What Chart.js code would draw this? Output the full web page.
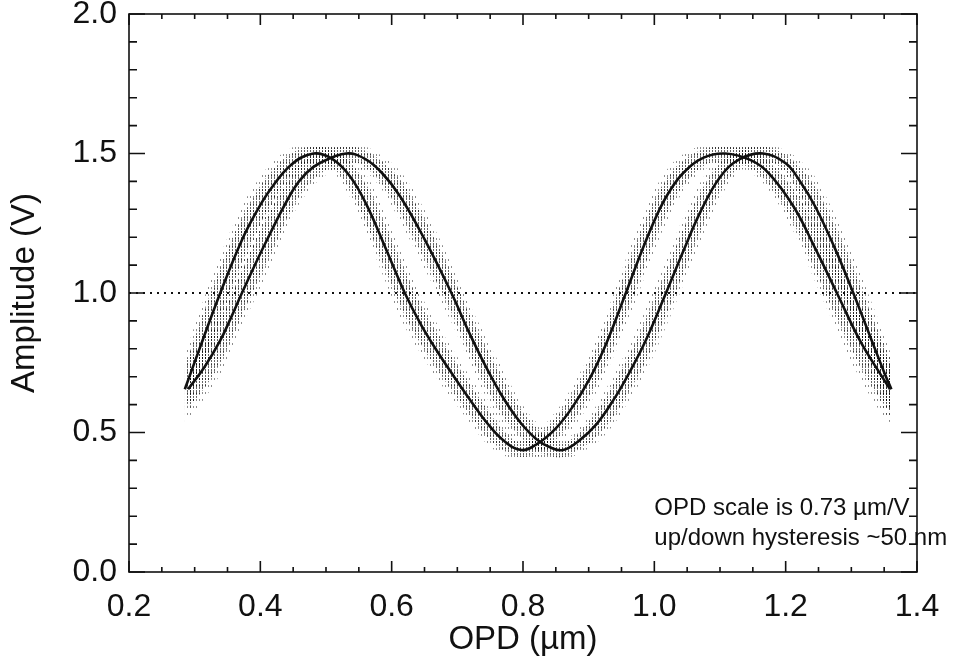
<!DOCTYPE html>
<html>
<head>
<meta charset="utf-8">
<script src="https://cdn.jsdelivr.net/npm/chart.js@4.4.1/dist/chart.umd.min.js"></script>
<style>
    html, body { margin: 0; padding: 0; background: #fff; }
    canvas { display: block; }
</style>
</head>
<body>
<canvas id="opd" width="959" height="669"></canvas>
<script>
const ctxOpd = document.getElementById("opd");

// axis ticks
const xTicks = [0.2, 0.4, 0.6, 0.8, 1.0, 1.2, 1.4];
const yTicks = [0.0, 0.5, 1.0, 1.5, 2.0];
const xMinor = [0.25, 0.3, 0.35, 0.45, 0.5, 0.55, 0.65, 0.7, 0.75, 0.85, 0.9, 0.95, 1.05, 1.1, 1.15, 1.25, 1.3, 1.35];
const yMinor = [0.1, 0.2, 0.3, 0.4, 0.6, 0.7, 0.8, 0.9, 1.1, 1.2, 1.3, 1.4, 1.6, 1.7, 1.8, 1.9];

// sweep 1 (left curve)
const sweepAx = [0.285, 0.312, 0.339, 0.372, 0.395, 0.415, 0.447, 0.481, 0.510, 0.537, 0.562, 0.590, 0.620,
    0.645, 0.671, 0.695, 0.720, 0.745, 0.770, 0.797, 0.821, 0.850, 0.875, 0.902, 0.927, 0.955,
    0.980, 1.004, 1.022, 1.044, 1.075, 1.108, 1.146, 1.174, 1.212, 1.245, 1.278, 1.313, 1.344, 1.359];
const sweepAy = [0.655, 0.83, 1.00, 1.19, 1.295, 1.37, 1.46, 1.50, 1.48, 1.417, 1.315, 1.165, 1.00,
    0.885, 0.785, 0.70, 0.615, 0.535, 0.472, 0.437, 0.458, 0.515, 0.59, 0.695, 0.82, 0.99,
    1.145, 1.28, 1.36, 1.43, 1.485, 1.50, 1.477, 1.43, 1.31, 1.16, 1.00, 0.83, 0.71, 0.655];
// vertical spread of the raw samples around sweep 1
const sweepAspread = [0.08, 0.09, 0.09, 0.08, 0.07, 0.06, 0.04, 0.025, 0.03, 0.05, 0.07, 0.08, 0.08,
    0.07, 0.065, 0.06, 0.055, 0.05, 0.035, 0.025, 0.03, 0.04, 0.05, 0.06, 0.07, 0.08,
    0.08, 0.07, 0.06, 0.045, 0.03, 0.025, 0.03, 0.04, 0.06, 0.08, 0.09, 0.09, 0.09, 0.08];

// sweep 2 (right curve)
const sweepBx = [0.290, 0.315, 0.339, 0.355, 0.372, 0.410, 0.450, 0.470, 0.490, 0.531, 0.560, 0.585, 0.613,
    0.650, 0.691, 0.718, 0.745, 0.771, 0.796, 0.821, 0.842, 0.861, 0.885, 0.912, 0.940, 0.962,
    0.986, 1.016, 1.045, 1.070, 1.100, 1.130, 1.166, 1.200, 1.222, 1.245, 1.275, 1.303, 1.331, 1.351, 1.361];
const sweepBy = [0.655, 0.735, 0.83, 0.91, 1.00, 1.19, 1.37, 1.43, 1.465, 1.50, 1.48, 1.431, 1.346,
    1.193, 1.00, 0.858, 0.729, 0.62, 0.536, 0.475, 0.446, 0.437, 0.47, 0.53, 0.625, 0.715,
    0.825, 0.99, 1.155, 1.29, 1.415, 1.48, 1.50, 1.465, 1.40, 1.31, 1.16, 1.00, 0.83, 0.71, 0.655];
const sweepBspread = [0.07, 0.075, 0.08, 0.08, 0.08, 0.08, 0.06, 0.05, 0.04, 0.025, 0.03, 0.04, 0.06,
    0.07, 0.07, 0.07, 0.07, 0.065, 0.05, 0.04, 0.03, 0.025, 0.03, 0.045, 0.06, 0.065,
    0.075, 0.08, 0.08, 0.07, 0.05, 0.03, 0.025, 0.03, 0.05, 0.07, 0.08, 0.09, 0.09, 0.09, 0.08];

const refLevel = 1.0;
const noteLines = ["OPD scale is 0.73 \u00b5m/V", "up/down hysteresis ~50 nm"];
const noteX = 1.0;
const noteY = [0.205, 0.097];

const toPoints = (xs, ys, off = [], k = 1) => xs.map((x, i) => ({ x: x, y: ys[i] + (off[i] || 0) * k }));

// dotted textures standing in for the raw sample columns
const makeDots = (w, h, alpha) => {
    const c = document.createElement("canvas");
    c.width = w;
    c.height = h;
    const g = c.getContext("2d");
    g.fillStyle = "rgba(0,0,0," + alpha + ")";
    g.fillRect(1, 0, 1, 2);
    return g.createPattern(c, "repeat");
};
const cloudCore = makeDots(3, 3, 0.6);
const cloudHalo = makeDots(3, 7, 0.45);

const envelope = (data, fill, pattern, order) => ({
    data: data,
    showLine: true,
    borderWidth: 0,
    borderColor: "rgba(0,0,0,0)",
    backgroundColor: pattern,
    pointRadius: 0,
    tension: 0.4,
    fill: fill,
    order: order
});

const curve = (data) => ({
    data: data,
    showLine: true,
    borderColor: "#111",
    borderWidth: 2.6,
    pointRadius: 0,
    tension: 0.4,
    fill: false,
    order: 1
});

const frame = {
    id: "frame",
    afterDatasetsDraw(chart) {
        const { ctx, chartArea: a, scales: { x, y } } = chart;
        ctx.save();
        ctx.strokeStyle = "#111";
        ctx.lineWidth = 1.6;
        ctx.strokeRect(a.left, a.top, a.right - a.left, a.bottom - a.top);
        ctx.beginPath();
        const tickX = (v, len) => {
            const p = x.getPixelForValue(v);
            ctx.moveTo(p, a.bottom); ctx.lineTo(p, a.bottom - len);
            ctx.moveTo(p, a.top); ctx.lineTo(p, a.top + len);
        };
        const tickY = (v, len) => {
            const p = y.getPixelForValue(v);
            ctx.moveTo(a.left, p); ctx.lineTo(a.left + len, p);
            ctx.moveTo(a.right, p); ctx.lineTo(a.right - len, p);
        };
        xTicks.forEach(v => tickX(v, 11));
        xMinor.forEach(v => tickX(v, 5));
        yTicks.forEach(v => tickY(v, 16));
        yMinor.forEach(v => tickY(v, 8));
        ctx.stroke();

        ctx.fillStyle = "#111";
        ctx.font = '24px "Liberation Sans"';
        ctx.textAlign = "left";
        ctx.textBaseline = "alphabetic";
        noteLines.forEach((t, i) => {
            ctx.fillText(t, x.getPixelForValue(noteX), y.getPixelForValue(noteY[i]));
        });
        ctx.restore();
    }
};

const tickFont = { family: "Liberation Sans", size: 32 };
const titleFont = { family: "Liberation Sans", size: 33 };

const graphOpd = new Chart(ctxOpd, {
    type: "scatter",
    data: {
        datasets: [
            envelope(toPoints(sweepAx, sweepAy, sweepAspread), false, cloudCore, 5),
            envelope(toPoints(sweepAx, sweepAy, sweepAspread, -1), "-1", cloudCore, 5),
            envelope(toPoints(sweepBx, sweepBy, sweepBspread), false, cloudCore, 5),
            envelope(toPoints(sweepBx, sweepBy, sweepBspread, -1), "-1", cloudCore, 5),
            envelope(toPoints(sweepAx, sweepAy, sweepAspread, 1.5), false, cloudHalo, 6),
            envelope(toPoints(sweepAx, sweepAy, sweepAspread, -1.5), "-1", cloudHalo, 6),
            envelope(toPoints(sweepBx, sweepBy, sweepBspread, 1.5), false, cloudHalo, 6),
            envelope(toPoints(sweepBx, sweepBy, sweepBspread, -1.5), "-1", cloudHalo, 6),
            {
                data: [{ x: xTicks[0], y: refLevel }, { x: xTicks[xTicks.length - 1], y: refLevel }],
                showLine: true,
                borderColor: "#111",
                borderWidth: 2,
                borderDash: [2, 5],
                pointRadius: 0,
                fill: false,
                order: 2
            },
            curve(toPoints(sweepAx, sweepAy)),
            curve(toPoints(sweepBx, sweepBy))
        ]
    },
    options: {
        responsive: false,
        animation: false,
        devicePixelRatio: 1,
        layout: {
            padding: { top: 14, right: 42, left: 0, bottom: 0 }
        },
        plugins: {
            legend: { display: false },
            tooltip: { enabled: false }
        },
        scales: {
            x: {
                type: "linear",
                min: 0.2,
                max: 1.4,
                afterBuildTicks: (s) => { s.ticks = xTicks.map(v => ({ value: v })); },
                afterFit: (s) => { s.height = 97; s.paddingLeft = 0; s.paddingRight = 0; },
                grid: { display: false, drawTicks: false },
                border: { display: false },
                ticks: {
                    font: tickFont,
                    color: "#111",
                    padding: 16,
                    maxRotation: 0,
                    autoSkip: false,
                    callback: (v) => Number(v).toFixed(1)
                },
                title: {
                    display: true,
                    text: "OPD (\u00b5m)",
                    color: "#111",
                    font: titleFont,
                    padding: { top: 0, bottom: 9 }
                }
            },
            y: {
                type: "linear",
                min: 0,
                max: 2,
                afterBuildTicks: (s) => { s.ticks = yTicks.map(v => ({ value: v })); },
                afterFit: (s) => { s.width = 129; s.paddingTop = 0; s.paddingBottom = 0; },
                grid: { display: false, drawTicks: false },
                border: { display: false },
                ticks: {
                    font: tickFont,
                    color: "#111",
                    padding: 12,
                    autoSkip: false,
                    callback: (v) => Number(v).toFixed(1)
                },
                title: {
                    display: true,
                    text: "Amplitude (V)",
                    color: "#111",
                    font: titleFont,
                    padding: { top: 5, bottom: 0 }
                }
            }
        }
    },
    plugins: [frame]
});
</script>
</body>
</html>
